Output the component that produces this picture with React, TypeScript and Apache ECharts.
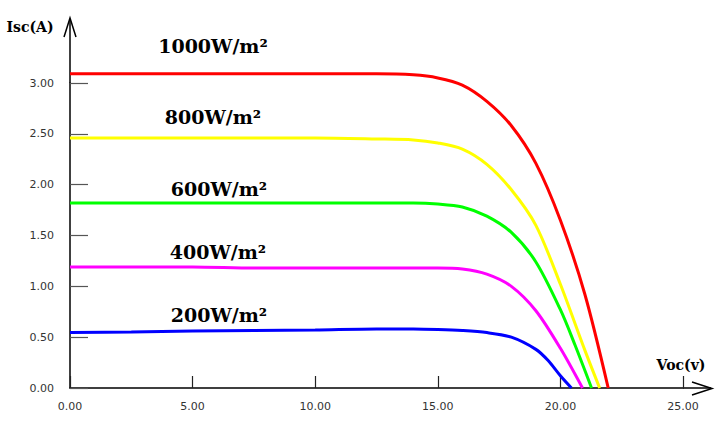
import React, { useEffect, useRef } from "react";
import * as echarts from "echarts";

const xTicks = [0, 5, 10, 15, 20, 25];
const yTicks = [0, 0.5, 1, 1.5, 2, 2.5, 3];

const seriesNames = ["1000W/m²", "800W/m²", "600W/m²", "400W/m²", "200W/m²"];
const seriesColors = ["#ff0000", "#ffff00", "#00ff00", "#ff00ff", "#0000ff"];

const red: [number, number][] = [
  [0, 3.09], [2.5, 3.09], [5, 3.09], [7.5, 3.09], [10, 3.09], [12.5, 3.09],
  [14, 3.08], [15, 3.05], [16, 2.98], [17, 2.82], [18, 2.58], [19, 2.21],
  [20, 1.65], [21, 0.92], [21.95, 0],
];
const yellow: [number, number][] = [
  [0, 2.46], [2.5, 2.46], [5, 2.46], [7.5, 2.46], [10, 2.46], [12.5, 2.45],
  [14, 2.44], [15, 2.41], [16, 2.35], [17, 2.2], [18, 1.95], [19, 1.6],
  [20, 1.02], [21, 0.37], [21.6, 0],
];
const green: [number, number][] = [
  [0, 1.82], [2.5, 1.82], [5, 1.82], [7.5, 1.82], [10, 1.82], [12.5, 1.82],
  [14, 1.82], [15, 1.81], [16, 1.78], [17, 1.69], [18, 1.53], [19, 1.24],
  [20, 0.77], [20.6, 0.42], [21.27, 0],
];
const magenta: [number, number][] = [
  [0, 1.19], [2.5, 1.19], [5, 1.19], [7.5, 1.18], [10, 1.18], [12.5, 1.18],
  [14, 1.18], [15, 1.18], [16, 1.17], [17, 1.12], [18, 1.0], [19, 0.76],
  [20, 0.39], [20.9, 0],
];
const blue: [number, number][] = [
  [0, 0.545], [2.5, 0.55], [5, 0.56], [7.5, 0.565], [10, 0.57], [12.5, 0.58],
  [14, 0.58], [15, 0.575], [16, 0.565], [17, 0.545], [18, 0.5], [19, 0.38],
  [19.5, 0.27], [20, 0.12], [20.45, 0],
];
const seriesData = [red, yellow, green, magenta, blue];

const labelPos: [number, number][] = [
  [213, 46], [213, 117], [219, 189], [218, 252], [219, 315],
];

export default function App() {
  const ref = useRef<HTMLDivElement>(null);
  useEffect(() => {
    if (!ref.current) return;
    const chart = echarts.init(ref.current, null, { renderer: "svg" });
    const labelFont = "'DejaVu Serif', serif";
    const option: any = {
      animation: false,
      backgroundColor: "#ffffff",
      grid: { left: 70, right: 42, top: 83, bottom: 36 },
      xAxis: {
        type: "value",
        min: xTicks[0],
        max: xTicks[xTicks.length - 1],
        interval: 5,
        splitLine: { show: false },
        axisLine: { lineStyle: { color: "#000", width: 1.5 } },
        axisTick: { inside: true, length: 12, lineStyle: { color: "#222", width: 1.2 } },
        axisLabel: {
          margin: 13,
          color: "#333",
          fontSize: 11,
          fontFamily: "'DejaVu Sans', sans-serif",
          formatter: (v: number) => v.toFixed(2),
        },
      },
      yAxis: {
        type: "value",
        min: yTicks[0],
        max: yTicks[yTicks.length - 1],
        interval: 0.5,
        splitLine: { show: false },
        axisLine: { show: true, lineStyle: { color: "#000", width: 1.5 } },
        axisTick: { show: true, inside: true, length: 18, lineStyle: { color: "#555", width: 1.2 } },
        axisLabel: {
          margin: 16,
          color: "#333",
          fontSize: 11,
          fontFamily: "'DejaVu Sans', sans-serif",
          formatter: (v: number) => v.toFixed(2),
        },
      },
      series: seriesData.map((d, i) => ({
        type: "line",
        name: seriesNames[i],
        data: d,
        smooth: 0.3,
        showSymbol: false,
        clip: false,
        lineStyle: { color: seriesColors[i], width: 3 },
        itemStyle: { color: seriesColors[i] },
      })),
      graphic: [
        { type: "line", shape: { x1: 70, y1: 83, x2: 70, y2: 19 }, style: { stroke: "#000", lineWidth: 1.5 } },
        { type: "polyline", shape: { points: [[64, 37], [70, 18], [76, 37]] }, style: { stroke: "#000", lineWidth: 1.5, fill: null } },
        { type: "line", shape: { x1: 683, y1: 388, x2: 711, y2: 388 }, style: { stroke: "#000", lineWidth: 1.5 } },
        { type: "polyline", shape: { points: [[692, 382], [712, 388.5], [692, 395]] }, style: { stroke: "#000", lineWidth: 1.5, fill: null } },
        {
          type: "text", x: 30, y: 27,
          style: { text: "Isc(A)", font: `bold 14px ${labelFont}`, fill: "#000", textAlign: "center", textVerticalAlign: "middle" },
        },
        {
          type: "text", x: 681, y: 365,
          style: { text: "Voc(v)", font: `bold 14px ${labelFont}`, fill: "#000", textAlign: "center", textVerticalAlign: "middle" },
        },
        ...seriesNames.map((n, i) => ({
          type: "text", x: labelPos[i][0], y: labelPos[i][1],
          style: { text: n, font: `bold 19px ${labelFont}`, fill: "#000", textAlign: "center", textVerticalAlign: "middle" },
        })),
      ],
    };
    chart.setOption(option);
    return () => chart.dispose();
  }, []);
  return <div ref={ref} style={{ position: "fixed", left: 0, top: 0, width: 725, height: 424 }} />;
}
